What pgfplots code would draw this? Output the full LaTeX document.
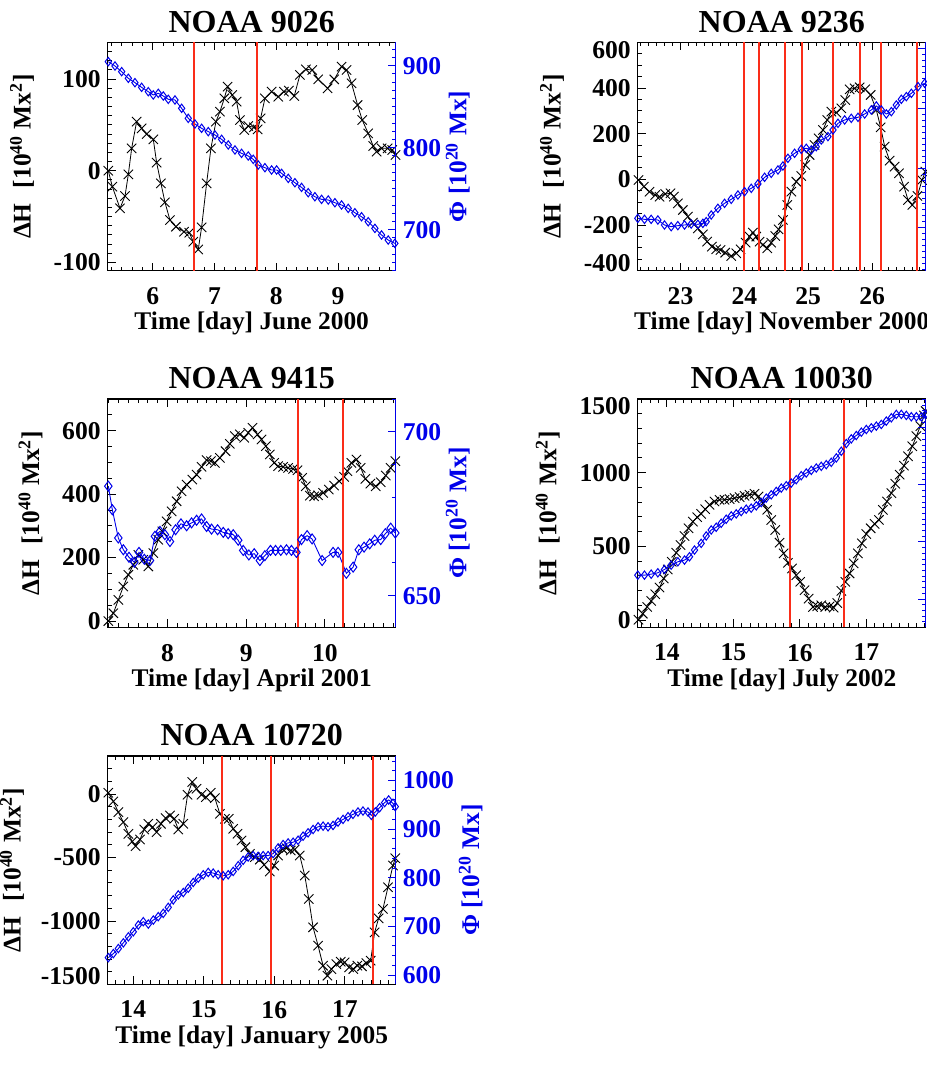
\documentclass[border=0pt]{standalone}
\usepackage{fontspec}
\setmainfont{Liberation Serif}
\usepackage{pgfplots}
\pgfplotsset{compat=1.18}
\definecolor{idlblue}{RGB}{0,0,235}
\definecolor{idlred}{RGB}{250,45,25}
\newcommand{\dhlabel}{ΔH\hspace{0.6em}[10\textsuperscript{40} Mx\textsuperscript{2}]}
\newcommand{\philabel}{Φ [10\textsuperscript{20} Mx]}
\pgfplotsset{
  panel/.style={scale only axis, width=144pt, height=114.2pt, anchor=north west,
    tick align=inside, major tick length=4pt, minor tick length=2pt,
    every tick/.append style={line width=0.45pt},
    axis line style={line width=0.55pt},
    /pgf/number format/assume math mode=true,
    tick label style={font=\fontsize{12.8}{13}\selectfont\bfseries},
    label style={font=\fontsize{12.7}{14}\selectfont\bfseries},
    title style={font=\fontsize{16}{18}\selectfont\bfseries, yshift=-4.6pt},
    clip=true},
  leftpanel/.style={panel, ytick pos=left, xtick pos=both, xticklabel pos=lower,
    xticklabel style={yshift=-4.8pt},
    xlabel style={at={(ticklabel cs:0.5,-3pt)}},
    ylabel style={at={(ticklabel cs:0.5,3pt)}},
    every tick/.append style={black}},
  rightpanel/.style={panel, axis x line=none, axis y line*=right, ytick pos=right,
    y axis line style={idlblue, line width=0.6pt},
    every tick/.append style={idlblue},
    yticklabel style={idlblue},
    ylabel style={idlblue, at={(ticklabel cs:0.5,-4.5pt)}}},
  blk/.style={black, line width=0.4pt, mark=x, mark size=3.3pt, mark options={line width=0.45pt}},
  blu/.style={idlblue, line width=0.45pt, mark=diamond, mark size=2.1pt, mark options={line width=0.5pt}},
  redl/.style={idlred, line width=1pt, no markers},
}
\begin{document}
\begin{tikzpicture}
\useasboundingbox (0pt,0pt) rectangle (463pt,-535pt);
% ================= Panel 1: NOAA 9026 =================
\begin{axis}[leftpanel, at={(53.85pt,-21.15pt)}, xmin=5.272, xmax=9.934, ymin=-109, ymax=140,
  xtick={6,7,8,9}, xticklabels={6,7,8,9}, minor xtick={5.33333,5.5,...,9.9},
  ytick={-100,0,100}, yticklabels={-100,0,100}, minor ytick={-100,-90,...,140},
  title={NOAA 9026}, xlabel={Time [day] June 2000}, ylabel={\dhlabel}]
\addplot[blk] coordinates {(5.282,0) (5.347,-17.4) (5.471,-41) (5.552,-27.6) (5.606,-4) (5.660,24.4) (5.740,53.5) (5.821,46.2) (5.902,40) (6.010,34.2) (6.064,8.8) (6.134,-13.8) (6.199,-34.5) (6.280,-53.8) (6.377,-61) (6.506,-66.5) (6.593,-67.6) (6.657,-77.4) (6.738,-85.8) (6.792,-61.8) (6.873,-13.8) (6.943,24.4) (7.024,53.5) (7.089,64.4) (7.159,78.9) (7.213,91.6) (7.288,82.5) (7.359,75.3) (7.412,55.3) (7.483,44.4) (7.547,48.7) (7.639,47.3) (7.698,45.1) (7.747,57.1) (7.817,78.9) (7.925,86.2) (8.033,80.7) (8.125,86.2) (8.205,87.3) (8.292,81.5) (8.383,104.4) (8.480,110.5) (8.583,109.8) (8.680,99.6) (8.831,89.8) (8.939,99.6) (9.058,113.4) (9.139,109.8) (9.219,95.3) (9.317,71.6) (9.392,55.3) (9.489,40.7) (9.570,26.9) (9.624,20.8) (9.705,24.4) (9.802,24.4) (9.877,22.6) (9.931,17.1)};
\end{axis}
\begin{axis}[rightpanel, at={(53.85pt,-21.15pt)}, xmin=5.272, xmax=9.934, ymin=650, ymax=928.5,
  ytick={700,800,900}, yticklabels={700,800,900}, minor ytick={650,660,...,920},
  ylabel={\philabel}]
\addplot[blu] coordinates {(5.282,904.9) (5.390,899.6) (5.498,892.7) (5.606,884.6) (5.713,879.3) (5.821,873.6) (5.929,868.3) (6.010,864.3) (6.091,866.3) (6.172,863.0) (6.253,859.0) (6.361,858.2) (6.469,848.0) (6.576,835.8) (6.684,828.9) (6.792,823.6) (6.900,819.6) (7.008,815.5) (7.116,810.2) (7.224,803.3) (7.332,797.2) (7.439,793.1) (7.547,789.9) (7.628,785.8) (7.709,778.9) (7.817,775.6) (7.925,772.8) (8.006,772.8) (8.087,768.7) (8.195,762.6) (8.302,757.3) (8.410,751.6) (8.518,745.1) (8.626,740.2) (8.734,737.0) (8.842,736.2) (8.950,732.9) (9.058,730.1) (9.165,726.0) (9.273,720.7) (9.381,715.8) (9.489,709.7) (9.597,701.6) (9.705,693.5) (9.813,687.4) (9.920,683.3)};
\addplot[redl] coordinates {(6.664,650) (6.664,928.5)};
\addplot[redl] coordinates {(7.688,650) (7.688,928.5)};
\end{axis}
% ================= Panel 2: NOAA 9236 =================
\begin{axis}[leftpanel, at={(318.9pt,-21.15pt)}, xmin=22.331, xmax=26.842, ymin=-400, ymax=600,
  xtick={23,24,25,26}, xticklabels={23,24,25,26}, minor xtick={22.375,22.5,...,26.8},
  ytick={-400,-200,0,200,400,600},
  yticklabels={\raisebox{3.8pt}[\height][\depth]{-400},-200,0,200,400,\raisebox{-3.8pt}[\height][\depth]{600}},
  minor ytick={-400,-350,...,600},
  title={NOAA 9236}, xlabel={Time [day] November 2000}, ylabel={\dhlabel}]
\addplot[blk] coordinates {(22.342,-2.9) (22.425,-32.1) (22.514,-54.0) (22.603,-68.6) (22.671,-75.8) (22.760,-64.1) (22.843,-61.2) (22.896,-75.8) (22.958,-105.0) (23.037,-134.2) (23.115,-163.4) (23.193,-189.7) (23.272,-214.5) (23.350,-240.7) (23.418,-272.8) (23.491,-294.7) (23.559,-306.4) (23.627,-309.3) (23.700,-321.0) (23.794,-335.6) (23.873,-323.9) (23.940,-306.4) (24.019,-277.2) (24.082,-250.9) (24.134,-233.4) (24.186,-250.9) (24.238,-272.8) (24.290,-287.4) (24.359,-302.0) (24.421,-277.2) (24.484,-248.0) (24.536,-218.8) (24.604,-177.9) (24.672,-112.3) (24.735,-53.9) (24.813,-10.1) (24.891,14.7) (24.954,62.8) (25.022,106.6) (25.100,150.4) (25.163,179.6) (25.231,216.1) (25.299,259.9) (25.362,296.4) (25.440,292.0) (25.518,311.0) (25.581,347.5) (25.649,394.2) (25.727,398.6) (25.806,403.0) (25.894,394.2) (25.978,369.4) (26.067,303.7) (26.135,227.8) (26.198,143.2) (26.276,81.9) (26.354,55.6) (26.422,26.4) (26.501,-32.0) (26.563,-90.4) (26.631,-112.3) (26.710,-72.9) (26.783,-2.9) (26.835,33.6)};
\end{axis}
\begin{axis}[rightpanel, at={(318.9pt,-21.15pt)}, xmin=22.331, xmax=26.842, ymin=-400, ymax=600,
  ytick={-212.8,49.8,312.4,575}, yticklabels={}, minor ytick={-396.62,-370.36,...,590}]
\addplot[blu] coordinates {(22.331,-170.7) (22.436,-175.1) (22.540,-175.1) (22.645,-178.0) (22.749,-199.9) (22.854,-207.2) (22.958,-202.8) (23.063,-199.9) (23.167,-195.5) (23.272,-197.0) (23.350,-192.6) (23.402,-185.3) (23.481,-156.1) (23.585,-126.9) (23.690,-105.0) (23.794,-87.5) (23.899,-68.5) (24.003,-53.9) (24.108,-39.3) (24.212,-20.3) (24.317,8.9) (24.421,26.4) (24.526,41.0) (24.604,58.5) (24.682,92.1) (24.787,114.0) (24.891,131.5) (24.970,135.9) (25.048,128.6) (25.126,143.2) (25.205,172.4) (25.309,187.0) (25.388,216.1) (25.466,245.3) (25.571,259.9) (25.675,267.2) (25.780,271.6) (25.884,286.2) (25.988,303.7) (26.067,321.3) (26.145,303.7) (26.224,286.2) (26.302,296.4) (26.380,325.6) (26.459,350.5) (26.537,362.1) (26.616,376.7) (26.720,405.9) (26.824,420.5)};
\addplot[redl] coordinates {(23.993,-400) (23.993,600)};
\addplot[redl] coordinates {(24.228,-400) (24.228,600)};
\addplot[redl] coordinates {(24.641,-400) (24.641,600)};
\addplot[redl] coordinates {(24.910,-400) (24.910,600)};
\addplot[redl] coordinates {(25.390,-400) (25.390,600)};
\addplot[redl] coordinates {(25.810,-400) (25.810,600)};
\addplot[redl] coordinates {(26.138,-400) (26.138,600)};
\addplot[redl] coordinates {(26.707,-400) (26.707,600)};
\end{axis}
% ================= Panel 3: NOAA 9415 =================
\begin{axis}[leftpanel, at={(53.85pt,-199.5pt)}, xmin=7.238, xmax=10.902, ymin=-20, ymax=700,
  xtick={8,9,10}, xticklabels={8,9,10}, minor xtick={7.25,7.375,...,10.9},
  ytick={0,200,400,600}, yticklabels={0,200,400,600}, minor ytick={0,50,...,700},
  title={NOAA 9415}, xlabel={Time [day] April 2001}, ylabel={\dhlabel}]
\addplot[blk] coordinates {(7.246,0) (7.310,24.6) (7.373,66.7) (7.437,108.9) (7.500,145.7) (7.564,177.3) (7.628,208.9) (7.691,193.1) (7.755,172.1) (7.818,214.2) (7.882,256.4) (7.933,282.7) (7.988,314.3) (8.051,345.9) (8.115,377.6) (8.178,409.2) (8.242,430.2) (8.314,446.0) (8.369,461.9) (8.432,486.1) (8.496,507.2) (8.551,504.0) (8.602,498.7) (8.665,514.5) (8.737,535.6) (8.792,558.8) (8.856,583.0) (8.919,588.3) (8.974,577.8) (9.025,593.6) (9.080,609.4) (9.144,588.3) (9.195,572.5) (9.250,551.4) (9.301,525.1) (9.356,498.7) (9.406,488.2) (9.470,486.1) (9.533,482.9) (9.597,479.8) (9.652,475.6) (9.711,451.3) (9.758,424.9) (9.809,395.4) (9.864,393.3) (9.915,396.5) (9.978,403.9) (10.050,414.4) (10.118,427.1) (10.182,440.8) (10.245,454.5) (10.287,472.4) (10.338,498.7) (10.402,509.3) (10.457,482.9) (10.516,448.2) (10.580,433.4) (10.647,424.9) (10.711,437.6) (10.775,458.7) (10.838,482.9) (10.897,504.0)};
\end{axis}
\begin{axis}[rightpanel, at={(53.85pt,-199.5pt)}, xmin=7.238, xmax=10.902, ymin=640.3, ymax=710,
  ytick={650,700}, yticklabels={650,700}, minor ytick={650,660,...,710},
  ylabel={\philabel}]
\addplot[blu, mark size=2.5pt] coordinates {(7.246,683.4) (7.297,676.2) (7.373,667.6) (7.437,664.0) (7.509,661.7) (7.577,660.2) (7.636,663.2) (7.704,661.1) (7.776,660.7) (7.839,668.1) (7.903,669.6) (7.966,668.6) (8.030,666.5) (8.102,670.1) (8.170,671.9) (8.242,671.3) (8.305,672.2) (8.369,673.0) (8.432,673.4) (8.496,671.1) (8.559,670.3) (8.636,670.1) (8.708,669.3) (8.771,668.9) (8.835,668.6) (8.898,666.9) (8.962,663.8) (9.034,662.4) (9.102,662.8) (9.174,660.7) (9.237,662.2) (9.309,663.8) (9.373,663.8) (9.440,663.8) (9.512,664.0) (9.576,663.8) (9.639,663.2) (9.703,667.1) (9.775,668.3) (9.838,667.3) (9.966,660.7) (10.105,663.2) (10.169,663.2) (10.275,656.8) (10.360,658.7) (10.432,664.0) (10.499,664.8) (10.571,665.8) (10.635,666.9) (10.711,667.1) (10.770,668.9) (10.838,670.6) (10.897,669.1)};
\addplot[redl] coordinates {(9.661,640.3) (9.661,710)};
\addplot[redl] coordinates {(10.232,640.3) (10.232,710)};
\end{axis}
% ================= Panel 4: NOAA 10030 =================
\begin{axis}[leftpanel, at={(318.9pt,-199.5pt)}, xmin=13.564, xmax=17.892, ymin=-50, ymax=1500,
  xtick={14,15,16,17}, xticklabels={14,15,16,17}, minor xtick={13.625,13.75,...,17.875},
  ytick={0,500,1000,1500}, yticklabels={0,500,1000,\raisebox{-3.5pt}[\height][\depth]{1500}},
  minor ytick={0,100,...,1500},
  title={NOAA 10030}, xlabel={Time [day] July 2002}, ylabel={\dhlabel}]
\addplot[blk] coordinates {(13.574,2.3) (13.639,43.2) (13.704,88.6) (13.765,129.5) (13.825,175.0) (13.890,220.5) (13.955,281.8) (14.015,343.2) (14.075,395.5) (14.141,456.8) (14.206,509.1) (14.266,570.5) (14.326,622.7) (14.391,668.2) (14.456,697.7) (14.516,720.5) (14.577,752.3) (14.642,781.8) (14.717,804.5) (14.792,815.9) (14.867,815.9) (14.943,820.5) (15.018,827.3) (15.093,834.1) (15.168,843.2) (15.243,850.0) (15.318,856.8) (15.379,838.6) (15.444,793.2) (15.509,747.7) (15.569,679.5) (15.629,611.4) (15.694,525.0) (15.755,452.3) (15.820,388.6) (15.880,350.0) (15.945,304.5) (16.005,259.1) (16.070,202.3) (16.131,145.5) (16.196,88.6) (16.261,93.2) (16.321,100.0) (16.381,88.6) (16.446,93.2) (16.506,84.1) (16.562,115.9) (16.622,197.7) (16.682,259.1) (16.747,315.9) (16.807,384.1) (16.872,452.3) (16.932,520.5) (16.998,584.1) (17.063,622.7) (17.123,652.3) (17.188,679.5) (17.248,747.7) (17.308,804.5) (17.374,861.4) (17.434,925.0) (17.499,986.4) (17.564,1047.7) (17.624,1111.4) (17.689,1179.5) (17.750,1247.7) (17.810,1315.9) (17.865,1388.6) (17.890,1418.2)};
\end{axis}
\begin{axis}[rightpanel, at={(318.9pt,-199.5pt)}, xmin=13.564, xmax=17.892, ymin=-50, ymax=1500,
  ytick={143,530,917,1304}, yticklabels={}, minor ytick={-11.8,26.9,...,1500}]
\addplot[blu] coordinates {(13.564,304.5) (13.664,304.5) (13.765,311.4) (13.865,320.5) (13.965,343.2) (14.065,372.7) (14.166,395.5) (14.266,406.8) (14.341,429.5) (14.416,475.0) (14.516,520.5) (14.592,570.5) (14.667,611.4) (14.742,629.5) (14.817,656.8) (14.892,684.1) (14.968,706.8) (15.043,720.5) (15.118,736.4) (15.193,752.3) (15.268,759.1) (15.344,775.0) (15.419,797.7) (15.494,827.3) (15.569,850.0) (15.644,872.7) (15.720,895.5) (15.795,911.4) (15.870,929.5) (15.945,952.3) (16.020,979.5) (16.095,997.7) (16.171,1015.9) (16.246,1031.8) (16.321,1043.2) (16.396,1054.5) (16.471,1070.5) (16.547,1100.0) (16.622,1145.5) (16.697,1197.7) (16.772,1229.5) (16.847,1252.3) (16.923,1275.0) (16.998,1293.2) (17.073,1304.5) (17.148,1315.9) (17.223,1327.3) (17.298,1350.0) (17.374,1372.7) (17.449,1395.5) (17.524,1395.5) (17.599,1388.6) (17.674,1379.5) (17.750,1379.5) (17.825,1379.5) (17.885,1395.5)};
\addplot[redl] coordinates {(15.858,-50) (15.858,1500)};
\addplot[redl] coordinates {(16.667,-50) (16.667,1500)};
\end{axis}
% ================= Panel 5: NOAA 10720 =================
\begin{axis}[leftpanel, at={(53.85pt,-378pt)}, xmin=13.637, xmax=17.722, ymin=-1500, ymax=300,
  xtick={14,15,16,17}, xticklabels={14,15,16,17}, minor xtick={13.75,13.875,...,17.7},
  ytick={-1500,-1000,-500,0}, yticklabels={\raisebox{4pt}[\height][\depth]{-1500},-1000,-500,0},
  minor ytick={-1500,-1400,...,300},
  ylabel style={at={(ticklabel cs:0.5,1.6pt)}},
  title={NOAA 10720}, xlabel={Time [day] January 2005}, ylabel={\dhlabel}]
\addplot[blk] coordinates {(13.646,10.5) (13.717,-57.9) (13.788,-142.1) (13.859,-221.1) (13.930,-313.2) (13.986,-373.7) (14.033,-410.5) (14.095,-357.9) (14.156,-278.9) (14.213,-234.2) (14.274,-260.5) (14.331,-300.0) (14.392,-234.2) (14.458,-189.5) (14.520,-168.4) (14.581,-194.7) (14.638,-278.9) (14.709,-234.2) (14.770,-5.3) (14.836,94.7) (14.897,42.1) (14.968,-5.3) (15.030,-23.7) (15.100,10.5) (15.157,-31.6) (15.228,-155.3) (15.299,-194.7) (15.355,-194.7) (15.417,-273.7) (15.478,-313.2) (15.535,-365.8) (15.591,-418.4) (15.653,-471.1) (15.724,-497.4) (15.795,-515.8) (15.856,-557.9) (15.936,-610.5) (15.998,-563.2) (16.054,-484.2) (16.116,-431.6) (16.172,-426.3) (16.234,-444.7) (16.290,-436.8) (16.361,-484.2) (16.432,-642.1) (16.489,-826.3) (16.550,-1050.0) (16.621,-1194.7) (16.692,-1352.6) (16.753,-1431.6) (16.810,-1378.9) (16.880,-1339.5) (16.942,-1321.1) (16.998,-1326.3) (17.060,-1365.8) (17.121,-1378.9) (17.178,-1352.6) (17.244,-1357.9) (17.305,-1331.6) (17.367,-1313.2) (17.423,-1089.5) (17.480,-978.9) (17.541,-905.3) (17.612,-734.2) (17.683,-563.2) (17.716,-505.3)};
\end{axis}
\begin{axis}[rightpanel, at={(53.85pt,-378pt)}, xmin=13.637, xmax=17.722, ymin=580.8, ymax=1050.3,
  ytick={600,700,800,900,1000}, yticklabels={600,700,800,900,1000}, minor ytick={600,620,...,1040},
  ylabel={\philabel}]
\addplot[blu] coordinates {(13.646,635.9) (13.717,644.1) (13.788,654.5) (13.859,666.2) (13.930,678.6) (14.000,689.0) (14.071,702.8) (14.142,709.7) (14.213,704.8) (14.284,713.1) (14.354,720.0) (14.425,726.9) (14.496,739.3) (14.567,754.5) (14.638,764.8) (14.709,769.7) (14.779,778.6) (14.850,790.3) (14.921,799.3) (14.992,806.2) (15.063,811.0) (15.133,809.7) (15.204,806.2) (15.275,804.1) (15.346,806.2) (15.417,813.1) (15.488,824.8) (15.558,835.9) (15.629,842.8) (15.700,845.5) (15.771,844.1) (15.842,845.5) (15.912,845.5) (15.983,849.7) (16.054,861.4) (16.125,868.3) (16.196,871.7) (16.267,873.1) (16.337,877.2) (16.408,885.5) (16.479,892.4) (16.550,899.3) (16.621,904.8) (16.692,906.2) (16.762,904.8) (16.833,907.6) (16.904,914.5) (16.975,920.0) (17.046,925.5) (17.116,930.3) (17.187,935.2) (17.258,937.2) (17.329,935.2) (17.376,928.3) (17.433,935.2) (17.494,944.1) (17.565,954.5) (17.622,960.0) (17.683,953.1) (17.716,946.2)};
\addplot[redl] coordinates {(15.263,580.8) (15.263,1050.3)};
\addplot[redl] coordinates {(15.960,580.8) (15.960,1050.3)};
\addplot[redl] coordinates {(17.407,580.8) (17.407,1050.3)};
\end{axis}
\end{tikzpicture}
\end{document}
